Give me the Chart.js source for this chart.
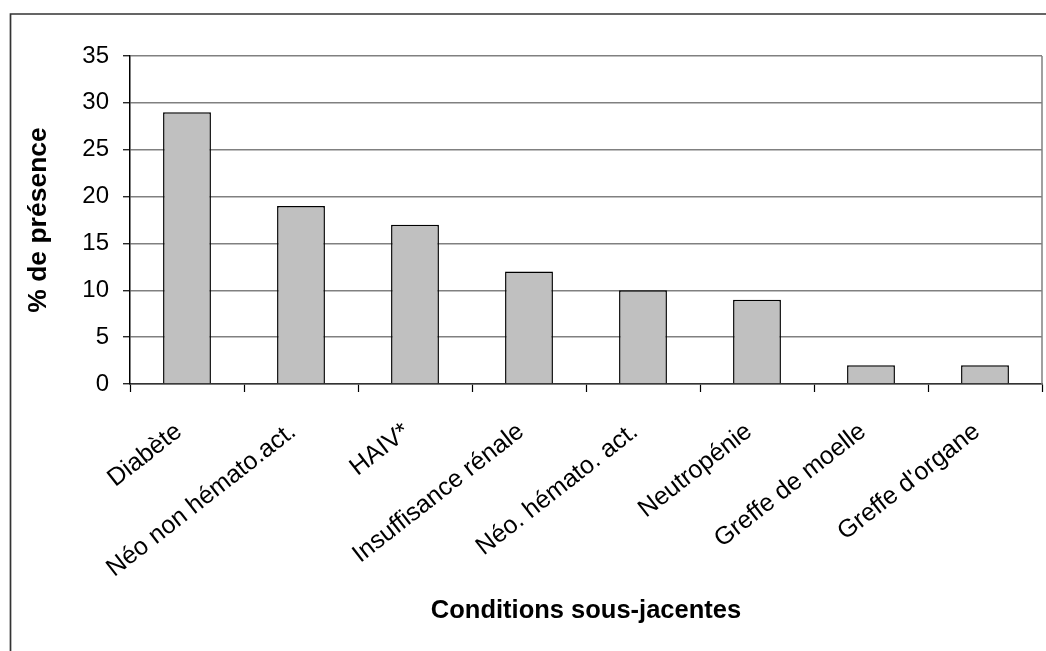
<!DOCTYPE html>
<html lang="fr">
<head>
<meta charset="utf-8">
<title>Conditions sous-jacentes</title>
<script src="https://cdn.jsdelivr.net/npm/chart.js@4/dist/chart.umd.min.js"></script>
<style>
  html, body { margin: 0; padding: 0; background: #fff; }
  #wrap { position: relative; width: 1046px; height: 651px; }
</style>
</head>
<body>
<div id="wrap"><canvas id="chart"></canvas></div>
<script>
// Underlying conditions and their share (%)
const categories = [
  "Diabète",
  "Néo non hémato.act.",
  "HAIV*",
  "Insuffisance rénale",
  "Néo. hémato. act.",
  "Neutropénie",
  "Greffe de moelle",
  "Greffe d'organe"
];
const presence = [29, 19, 17, 12, 10, 9, 2, 2];
const yTicks = [0, 5, 10, 15, 20, 25, 30, 35];

const xTitle = "Conditions sous-jacentes";
const yTitle = "% de présence";

const FONT = "'Liberation Sans', Arial, sans-serif";

// Outer frame lines and the right edge of the plot area
const framePlugin = {
  id: 'frame',
  afterDraw(chart) {
    const { ctx, chartArea } = chart;
    ctx.save();
    ctx.lineCap = 'butt';
    // plot area right edge
    ctx.strokeStyle = '#808080';
    ctx.lineWidth = 1.5;
    ctx.beginPath();
    ctx.moveTo(chartArea.right, chartArea.top);
    ctx.lineTo(chartArea.right, chartArea.bottom);
    ctx.stroke();
    // outer frame (top and left)
    ctx.strokeStyle = '#333';
    ctx.lineWidth = 1.7;
    ctx.beginPath();
    ctx.moveTo(10.5, 651);
    ctx.lineTo(10.5, 14);
    ctx.lineTo(1046, 14);
    ctx.stroke();
    ctx.restore();
  }
};

Chart.defaults.color = '#000';
Chart.defaults.font.family = FONT;

new Chart(document.getElementById('chart'), {
  type: 'bar',
  data: {
    labels: categories,
    datasets: [{
      data: presence,
      backgroundColor: '#C0C0C0',
      borderColor: '#000',
      borderWidth: 1.5,
      barPercentage: 0.42,
      categoryPercentage: 1.0
    }]
  },
  options: {
    responsive: true,
    maintainAspectRatio: false,
    animation: false,
    events: [],
    layout: { padding: { top: 56, right: 4, left: 0, bottom: 0 } },
    plugins: {
      legend: { display: false },
      tooltip: { enabled: false }
    },
    scales: {
      x: {
        afterFit(scale) { scale.height = 267; },
        border: { display: true, color: '#333', width: 1.5 },
        grid: {
          display: true,
          offset: true,
          drawOnChartArea: false,
          drawTicks: true,
          tickLength: 8,
          tickColor: '#000',
          tickWidth: 1.2
        },
        ticks: {
          autoSkip: false,
          minRotation: 38,
          maxRotation: 38,
          padding: 25,
          labelOffset: -8,
          font: { family: FONT, size: 25 },
          color: '#000'
        },
        title: {
          display: true,
          text: xTitle,
          font: { family: FONT, size: 25.5, weight: 'bold' },
          color: '#000',
          padding: { top: 0, bottom: 25 }
        }
      },
      y: {
        min: 0,
        max: 35,
        afterFit(scale) { scale.width = 130; },
        afterBuildTicks(scale) { scale.ticks = yTicks.map(v => ({ value: v })); },
        border: { display: true, color: '#000', width: 1.5 },
        grid: {
          color: '#808080',
          lineWidth: 1.5,
          drawTicks: true,
          tickLength: 7,
          tickColor: '#000',
          tickWidth: 1.2
        },
        ticks: {
          stepSize: 5,
          padding: 14,
          font: { family: FONT, size: 24 },
          color: '#000'
        },
        title: {
          display: true,
          text: yTitle,
          font: { family: FONT, size: 26.5, weight: 'bold' },
          color: '#000',
          padding: { top: 23, bottom: 0 }
        }
      }
    }
  },
  plugins: [framePlugin]
});
</script>
</body>
</html>
